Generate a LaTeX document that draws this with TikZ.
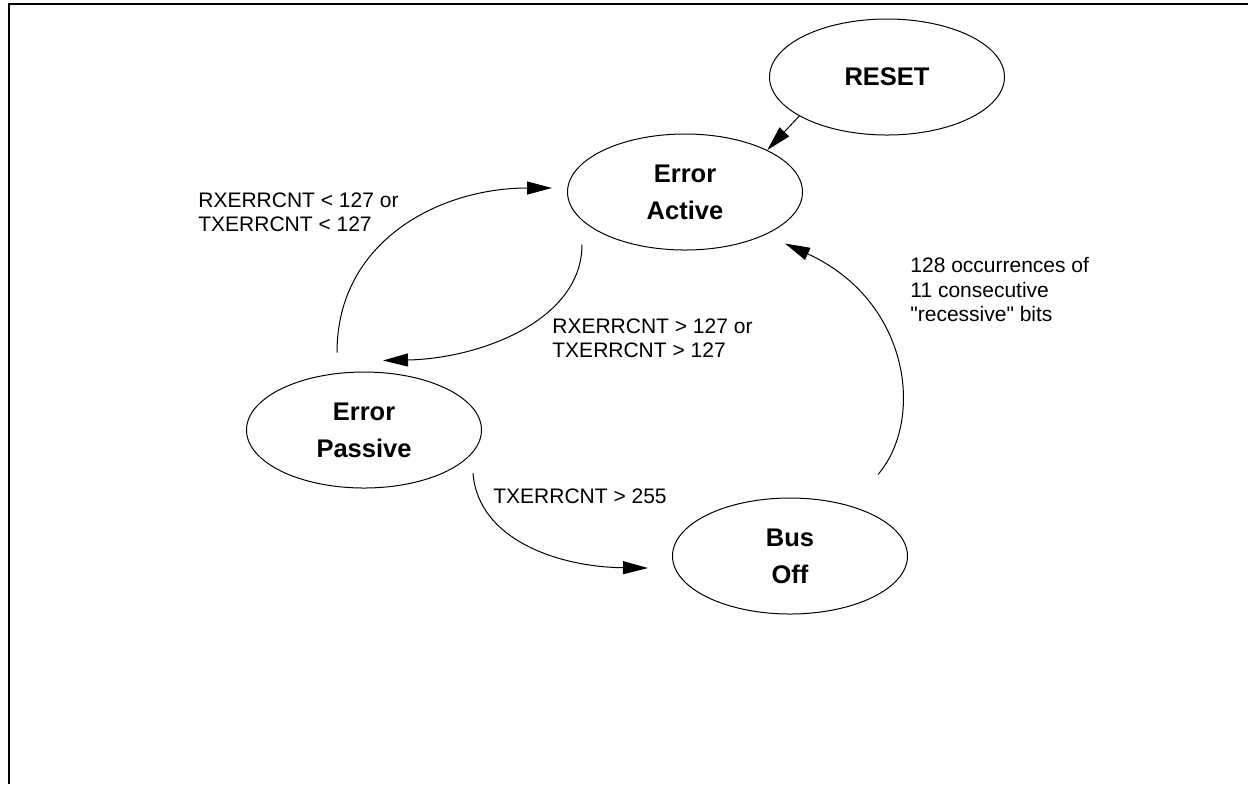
\documentclass[tikz,border=0pt]{standalone}
\usepackage{fontspec}
\setmainfont{Liberation Sans}
\usetikzlibrary{shapes.geometric,arrows.meta}
\tikzset{
  state/.style={draw, ellipse, line width=0.5pt, minimum width=117.5pt, minimum height=58pt,
    inner sep=0pt, align=center, font={\fontsize{12.75}{18.5}\selectfont\bfseries}},
  lbl/.style={anchor=north west, inner sep=0pt, align=left, font={\fontsize{10.5}{12.25}\selectfont}},
  arr/.style={line width=0.5pt, -{Triangle[length=12.5pt,width=6.5pt]}},
  frame/.style={line width=1.4pt}
}
\begin{document}
\begin{tikzpicture}[x=0.5pt,y=-0.5pt]
\useasboundingbox (0,0) rectangle (1248,784);
\draw[frame] (1248,4) -- (9,4) -- (9,784);

\node[state] (reset) at (887,77) {RESET};
\node[state] (ea) at (685,192) {Error\\Active};
\node[state] (ep) at (364,430) {Error\\Passive};
\node[state] (bo) at (790,556) {Bus\\Off};

\draw[arr] (reset.204) -- (ea.27.4);
\draw[arr] ([shift={(-27,-19)}]ep.north) .. controls +(0,-112) and +(-112,0) .. ([shift={(-15,-4)}]ea.west);
\draw[arr] ([shift={(-103,-6)}]ea.south) .. controls +(0,76) and +(97,-2) .. ([shift={(19,-11)}]ep.north);
\draw[arr] ([shift={(-9,43)}]ep.east) .. controls +(5,67) and +(-89,-1) .. ([shift={(-24,12)}]bo.west);
\draw[arr] ([shift={(88,-23)}]bo.north) .. controls +(47,-55) and +(125,57) .. ([shift={(100,-7)}]ea.south);

\node[lbl] (l1) at (198,192) {RXERRCNT < 127 or\\TXERRCNT < 127};
\node[lbl] (l2) at (552,318) {RXERRCNT > 127 or\\TXERRCNT > 127};
\node[lbl] (l3) at (493,488) {TXERRCNT > 255};
\node[lbl] (l4) at (910,257) {128 occurrences of\\11 consecutive\\\textquotedbl recessive\textquotedbl{} bits};
\end{tikzpicture}
\end{document}
